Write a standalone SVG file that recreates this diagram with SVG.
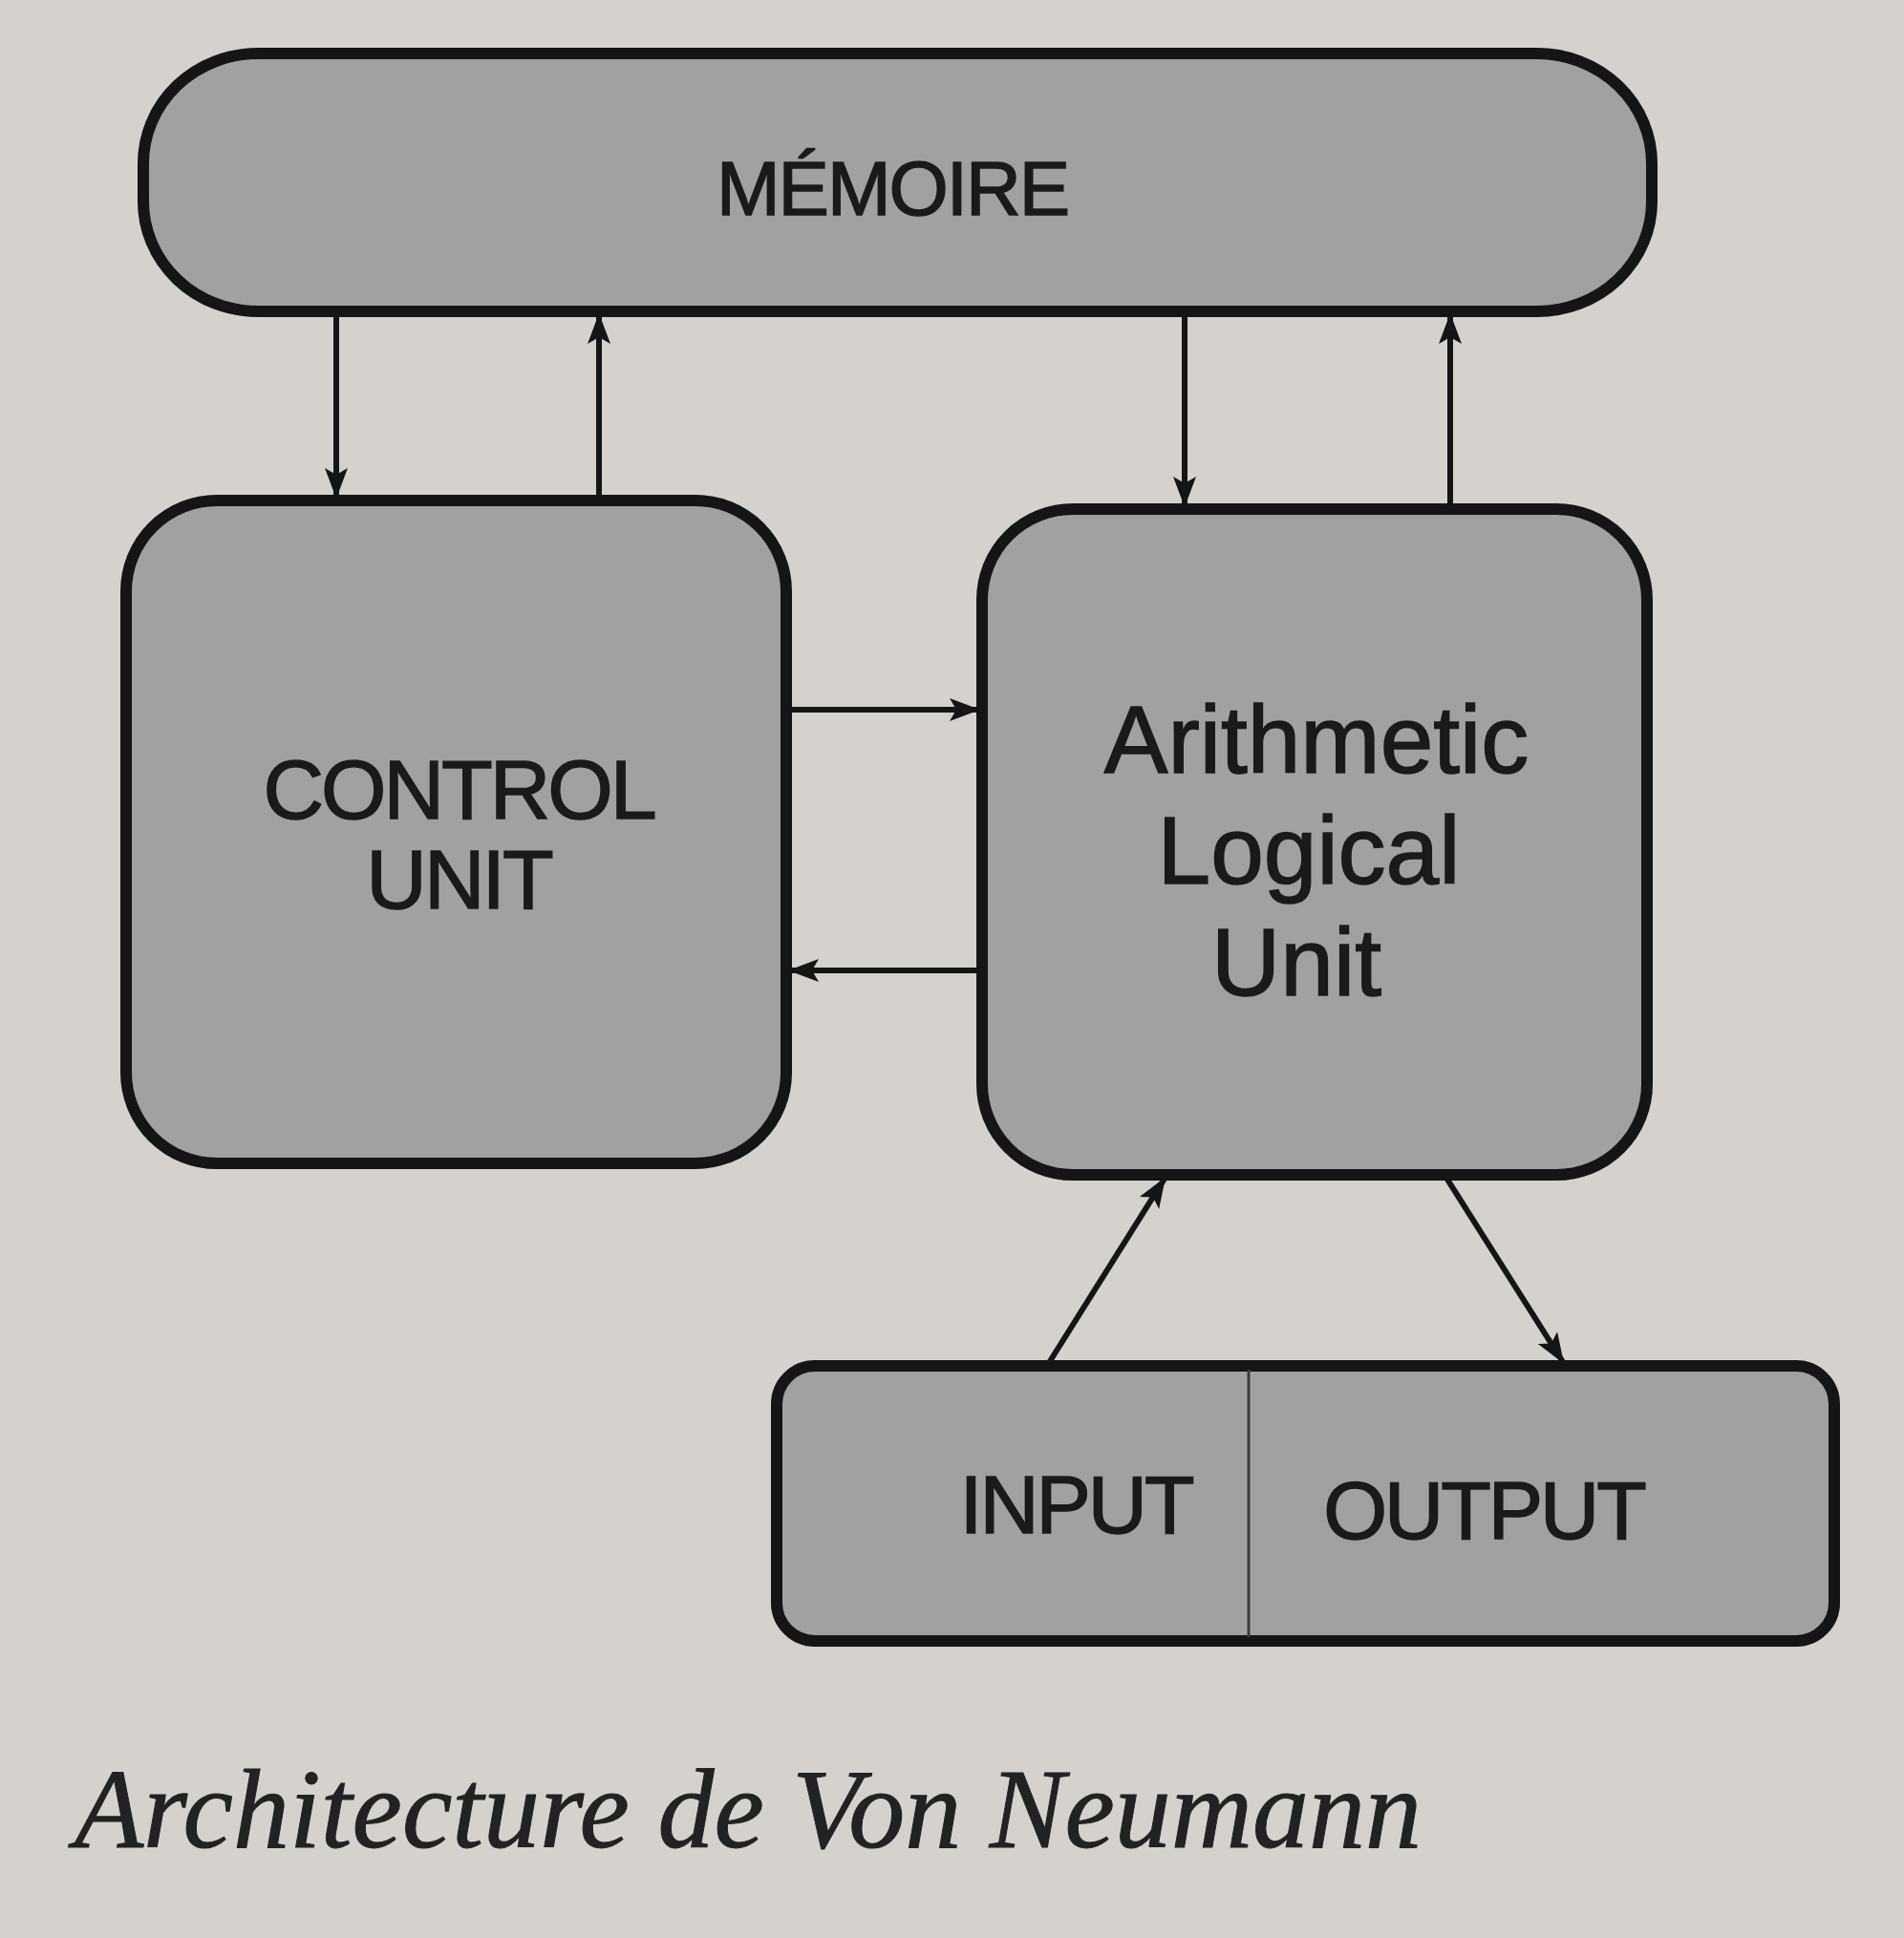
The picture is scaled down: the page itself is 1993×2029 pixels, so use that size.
<svg xmlns="http://www.w3.org/2000/svg" width="1993" height="2029" viewBox="0 0 1993 2029">
  <defs>
    <style>
      .box { fill: #a3a19f; stroke: #151515; stroke-width: 12; }
      .lbl { font-family: "Liberation Sans", Arial, sans-serif; fill: #1a1a1a; stroke: #1a1a1a; stroke-width: 1.5; text-anchor: middle; }
      .con { stroke: #151515; stroke-width: 6; fill: none; }
      .cap { font-family: "Liberation Serif", "Times New Roman", serif; font-style: italic; fill: #222; stroke: #222; stroke-width: 1; }
    </style>
    <marker id="ah" viewBox="0 0 32 28" refX="30" refY="14" markerWidth="32" markerHeight="28" markerUnits="userSpaceOnUse" orient="auto">
      <path d="M0,2 L32,14 L0,26 L7,14 Z" fill="#151515"/>
    </marker>
  </defs>
  <rect x="0" y="0" width="1993" height="2029" fill="#d5d2ce"/>

  <g id="memoire">
    <rect class="box" x="150" y="56" width="1579" height="270" rx="120" ry="115" fill="#a8a6a4"/>
    <text class="lbl" x="934" y="225" font-size="80" letter-spacing="-2">MÉMOIRE</text>
  </g>

  <g id="control-unit">
    <rect class="box" x="132" y="524" width="691" height="694" rx="95" ry="95" fill="#9f9d9b"/>
    <text class="lbl" x="480" y="857" font-size="88" letter-spacing="-3">CONTROL</text>
    <text class="lbl" x="480" y="951" font-size="88" letter-spacing="-3">UNIT</text>
  </g>

  <g id="alu">
    <rect class="box" x="1028" y="533" width="696" height="697" rx="95" ry="95"/>
    <text class="lbl" x="1378" y="809" font-size="100">Arithmetic</text>
    <text class="lbl" x="1370" y="925" font-size="100">Logical</text>
    <text class="lbl" x="1357" y="1042" font-size="100">Unit</text>
  </g>

  <g id="io">
    <rect class="box" x="813" y="1430" width="1107" height="288" rx="40" ry="40"/>
    <line x1="1307" y1="1434" x2="1307" y2="1714" stroke="#3a3a3a" stroke-width="3"/>
    <text class="lbl" x="1126" y="1605" font-size="86" letter-spacing="-3">INPUT</text>
    <text class="lbl" x="1553" y="1611" font-size="86" letter-spacing="-3">OUTPUT</text>
  </g>

  <g id="connectors">
    <line class="con" x1="352" y1="326" x2="352" y2="520" marker-end="url(#ah)"/>
    <line class="con" x1="627" y1="524" x2="627" y2="330" marker-end="url(#ah)"/>
    <line class="con" x1="1240" y1="326" x2="1240" y2="529" marker-end="url(#ah)"/>
    <line class="con" x1="1518" y1="533" x2="1518" y2="330" marker-end="url(#ah)"/>
    <line class="con" x1="823" y1="743" x2="1024" y2="743" stroke-width="8" marker-end="url(#ah)"/>
    <line class="con" x1="1028" y1="1016" x2="827" y2="1016" marker-end="url(#ah)"/>
    <line class="con" x1="1096" y1="1430" x2="1219" y2="1234" marker-end="url(#ah)"/>
    <line class="con" x1="1512" y1="1230" x2="1636" y2="1426" marker-end="url(#ah)"/>
  </g>

  <text class="cap" x="78" y="1934" font-size="118" textLength="1410" lengthAdjust="spacingAndGlyphs">Architecture de Von Neumann</text>
</svg>
